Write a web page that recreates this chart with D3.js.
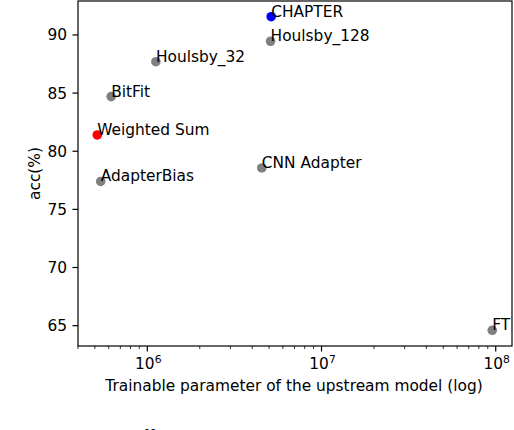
<!DOCTYPE html>
<html>
<head>
<meta charset="utf-8">
<script src="https://cdn.jsdelivr.net/npm/d3@7"></script>
<style>
  body { margin: 0; background: #fff; }
  svg { display: block; }
  text { font-family: "DejaVu Sans", sans-serif; }
  text.caption { font-family: "Liberation Serif", serif; }
</style>
</head>
<body>
<div id="chart"></div>
<script>
// data
const methods = ["CHAPTER", "Houlsby_128", "Houlsby_32", "BitFit", "Weighted Sum", "AdapterBias", "CNN Adapter", "FT"];
const params = [5.14e6, 5.1e6, 1.12e6, 6.2e5, 5.16e5, 5.4e5, 4.54e6, 9.55e7];
const acc = [91.57, 89.46, 87.7, 84.7, 81.4, 77.4, 78.56, 64.6];
const colors = ["blue", "gray", "gray", "gray", "red", "gray", "gray", "gray"];
const yTicks = [65, 70, 75, 80, 85, 90];
const xTicks = [1e6, 1e7, 1e8];
const captionWords = ["1:", "The", "trade-off", "between", "accuracy", "and", "trainable"];

const width = 514, height = 430;
const mLeft = 78, mRight = 512, mTop = 1, mBottom = 346;
const fs = 15.4;

const svg = d3.select("#chart").append("svg")
    .attr("width", width)
    .attr("height", height);

const x = d3.scaleLog().domain([4.0e5, 1.24e8]).range([mLeft, mRight]);
const y = d3.scaleLinear().domain([63.25, 92.92]).range([mBottom, mTop]);

// minor ticks on the log axis
const minor = [];
[1e5, 1e6, 1e7, 1e8].forEach(d => {
    for (let k = 2; k <= 9; k++) {
        const v = d * k;
        if (v >= x.domain()[0] && v <= x.domain()[1]) minor.push(v);
    }
});

const g = svg.append("g");

g.selectAll(".minor").data(minor).enter().append("line")
    .attr("x1", d => x(d)).attr("x2", d => x(d))
    .attr("y1", mBottom).attr("y2", mBottom + 3)
    .attr("stroke", "#000").attr("stroke-width", 0.8);

g.selectAll(".xmajor").data(xTicks).enter().append("line")
    .attr("x1", d => x(d)).attr("x2", d => x(d))
    .attr("y1", mBottom).attr("y2", mBottom + 5.5)
    .attr("stroke", "#000").attr("stroke-width", 1.2);

const xl = g.selectAll(".xlab").data(xTicks).enter().append("text")
    .attr("x", d => x(d) + 1)
    .attr("y", mBottom + 23)
    .attr("text-anchor", "middle")
    .attr("font-size", fs)
    .attr("fill", "#000");
xl.append("tspan").text("10");
xl.append("tspan").attr("dy", -6.5).attr("font-size", 10.8).text(d => Math.round(Math.log10(d)));

g.selectAll(".ymajor").data(yTicks).enter().append("line")
    .attr("x1", mLeft - 5.5).attr("x2", mLeft)
    .attr("y1", d => y(d)).attr("y2", d => y(d))
    .attr("stroke", "#000").attr("stroke-width", 1.2);

g.selectAll(".ylab").data(yTicks).enter().append("text")
    .attr("x", mLeft - 11)
    .attr("y", d => y(d))
    .attr("dy", "0.36em")
    .attr("text-anchor", "end")
    .attr("font-size", fs)
    .text(d => d);

// frame
svg.append("rect")
    .attr("x", mLeft).attr("y", mTop)
    .attr("width", mRight - mLeft).attr("height", mBottom - mTop)
    .attr("fill", "none").attr("stroke", "#000").attr("stroke-width", 1.2);

// points
const idx = d3.range(methods.length);
svg.selectAll(".pt").data(idx).enter().append("circle")
    .attr("cx", i => x(params[i]))
    .attr("cy", i => y(acc[i]))
    .attr("r", 4.8)
    .attr("fill", i => colors[i]);

svg.selectAll(".name").data(idx).enter().append("text")
    .attr("x", i => x(params[i]))
    .attr("y", i => y(acc[i]))
    .attr("font-size", fs)
    .text(i => methods[i]);

// axis titles
svg.append("text")
    .attr("x", (mLeft + mRight) / 2 - 1)
    .attr("y", 391)
    .attr("text-anchor", "middle")
    .attr("font-size", fs)
    .text("Trainable parameter of the upstream model (log)");

svg.append("text")
    .attr("transform", `translate(39.5,${(mTop + mBottom) / 2}) rotate(-90)`)
    .attr("text-anchor", "middle")
    .attr("font-size", fs)
    .text("acc(%)");

// caption of the paper, cut off at the bottom of the crop
const capX = [0, 35, 85, 167, 245, 377, 417];
svg.append("text")
    .attr("class", "caption")
    .attr("y", 444)
    .attr("font-size", 20)
    .selectAll("tspan").data(captionWords).enter().append("tspan")
    .attr("x", (d, i) => capX[i])
    .text(d => d);
</script>
</body>
</html>
